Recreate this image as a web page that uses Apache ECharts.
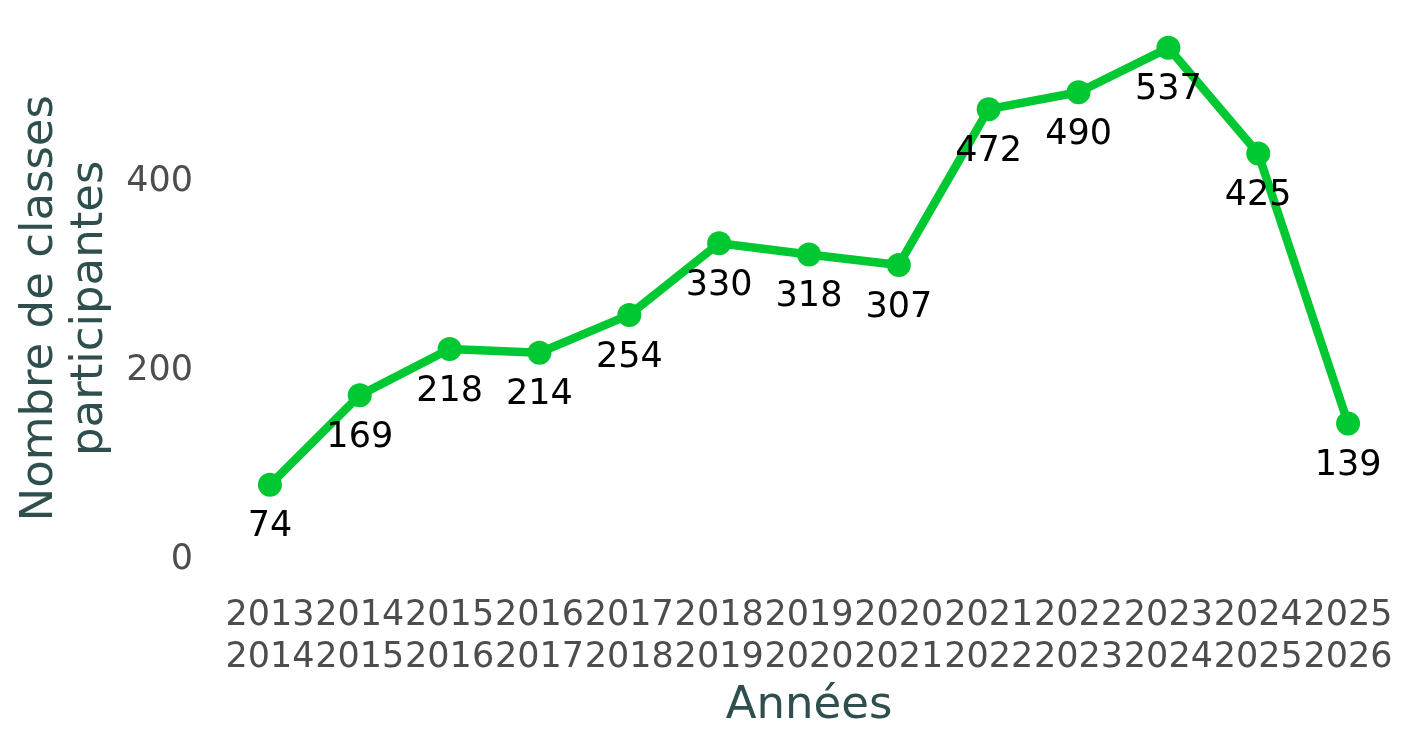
<!DOCTYPE html>
<html>
<head>
<meta charset="utf-8">
<script src="https://cdn.jsdelivr.net/npm/echarts@6/dist/echarts.min.js"></script>
<style>
	html, body { margin: 0; padding: 0; background: #fff; }
	#main { width: 1425px; height: 750px; }
</style>
</head>
<body>
<div id="main"></div>
<script>
'use strict';

// school years, drawn on two lines
var years = ['2013\n2014', '2014\n2015', '2015\n2016', '2016\n2017', '2017\n2018',
	'2018\n2019', '2019\n2020', '2020\n2021', '2021\n2022', '2022\n2023',
	'2023\n2024', '2024\n2025', '2025\n2026'];

// number of participating classes
var classes = [74, 169, 218, 214, 254, 330, 318, 307, 472, 490, 537, 425, 139];

var yTicks = [0, 200, 400];

var font = 'DejaVu Sans';

var myChart = echarts.init(document.getElementById('main'));

var option = {
	backgroundColor: '#ffffff',
	animation: false,
	grid: {
		left: 225,
		right: 32,
		top: 22.5,
		bottom: 170
	},
	xAxis: {
		type: 'category',
		data: years,
		boundaryGap: true,
		name: 'Années',
		nameLocation: 'middle',
		nameGap: 95,
		nameTextStyle: { fontFamily: font, fontSize: 45, color: '#2F4F4F' },
		axisLine: { show: false },
		axisTick: { show: false },
		axisLabel: {
			interval: 0,
			margin: 15,
			fontFamily: font,
			fontSize: 35,
			lineHeight: 42,
			color: '#4D4D4D'
		}
	},
	yAxis: {
		type: 'value',
		min: -26.85,
		max: 563.85,
		name: 'Nombre de classes\nparticipantes',
		nameLocation: 'middle',
		nameRotate: 90,
		nameGap: 105,
		nameTextStyle: {
			fontFamily: font,
			fontSize: 45,
			lineHeight: 50,
			color: '#2F4F4F',
			padding: [0, 14, 0, 0]
		},
		axisLine: { show: false },
		axisTick: { show: false },
		splitLine: { show: false },
		axisLabel: {
			customValues: yTicks,
			margin: 32,
			formatter: '{v|{value}}',
			rich: {
				v: {
					fontFamily: font,
					fontSize: 35,
					color: '#4D4D4D',
					padding: [10, 0, 0, 0]
				}
			}
		}
	},
	series: [
		{
			type: 'line',
			data: classes,
			symbol: 'circle',
			symbolSize: 24,
			lineStyle: { color: '#00C832', width: 8.5 },
			itemStyle: { color: '#00C832' },
			label: {
				show: true,
				position: 'bottom',
				distance: 13,
				fontFamily: font,
				fontSize: 35,
				color: '#000000'
			}
		}
	]
};

myChart.setOption(option);
</script>
</body>
</html>
